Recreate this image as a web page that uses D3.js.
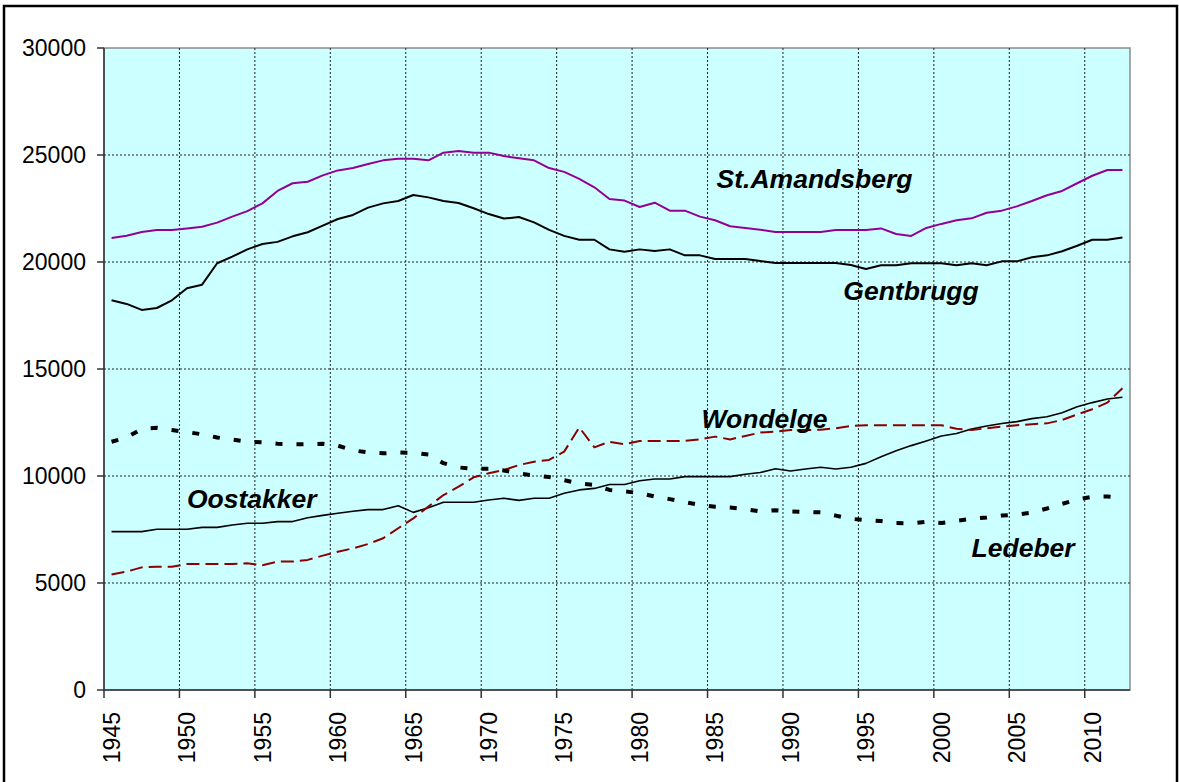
<!DOCTYPE html>
<html>
<head>
<meta charset="utf-8">
<script src="https://cdn.jsdelivr.net/npm/d3@7"></script>
<style>
  body { margin: 0; background: #fff; }
  svg { display: block; font-family: "Liberation Sans", Arial, sans-serif; }
</style>
</head>
<body>
<svg id="chart" width="1179" height="782"></svg>
<script>
// population of the Ghent districts, 1945 - 2012

const years = [
  1945, 1946, 1947, 1948, 1949, 1950, 1951, 1952, 1953, 1954,
  1955, 1956, 1957, 1958, 1959, 1960, 1961, 1962, 1963, 1964,
  1965, 1966, 1967, 1968, 1969, 1970, 1971, 1972, 1973, 1974,
  1975, 1976, 1977, 1978, 1979, 1980, 1981, 1982, 1983, 1984,
  1985, 1986, 1987, 1988, 1989, 1990, 1991, 1992, 1993, 1994,
  1995, 1996, 1997, 1998, 1999, 2000, 2001, 2002, 2003, 2004,
  2005, 2006, 2007, 2008, 2009, 2010, 2011, 2012
]

const stAmandsberg = [
  21120, 21230, 21400, 21490, 21490, 21570, 21650, 21840, 22120, 22380,
  22740, 23320, 23680, 23750, 24050, 24280, 24390, 24580, 24750, 24830,
  24830, 24750, 25110, 25190, 25110, 25110, 24950, 24850, 24750, 24390,
  24210, 23880, 23490, 22940, 22870, 22570, 22770, 22400, 22400, 22120,
  21950, 21670, 21590, 21510, 21400, 21400, 21400, 21400, 21490, 21490,
  21490, 21570, 21310, 21220, 21590, 21780, 21950, 22040, 22300, 22400,
  22600, 22850, 23120, 23320, 23680, 24030, 24300, 24300
]

const gentbrugg = [
  18210, 18040, 17760, 17850, 18210, 18770, 18940, 19940, 20250, 20590,
  20840, 20940, 21200, 21390, 21700, 22010, 22200, 22540, 22740, 22850,
  23130, 23020, 22850, 22760, 22510, 22240, 22030, 22100, 21850, 21500,
  21220, 21040, 21040, 20590, 20480, 20590, 20510, 20590, 20310, 20310,
  20140, 20140, 20140, 20050, 19950, 19950, 19950, 19950, 19950, 19860,
  19670, 19850, 19850, 19940, 19940, 19940, 19850, 19940, 19850, 20030,
  20030, 20220, 20310, 20500, 20760, 21040, 21040, 21140
]

const oostakker = [
  7400, 7400, 7400, 7510, 7510, 7510, 7600, 7600, 7710, 7790,
  7790, 7870, 7870, 8050, 8160, 8260, 8350, 8430, 8430, 8610,
  8300, 8520, 8770, 8770, 8770, 8880, 8960, 8860, 8960, 8960,
  9190, 9350, 9420, 9600, 9600, 9780, 9860, 9860, 9970, 9970,
  9970, 9970, 10080, 10160, 10340, 10230, 10330, 10410, 10330, 10410,
  10590, 10900, 11180, 11420, 11640, 11870, 11990, 12200, 12340, 12450,
  12540, 12680, 12770, 12960, 13240, 13430, 13600, 13680
]

const wondelge = [
  5400, 5530, 5730, 5760, 5760, 5890, 5890, 5890, 5890, 5920,
  5830, 6000, 6000, 6080, 6280, 6460, 6620, 6820, 7090, 7560,
  8020, 8570, 9110, 9500, 9940, 10130, 10280, 10510, 10670, 10750,
  11140, 12270, 11340, 11600, 11480, 11640, 11640, 11640, 11640, 11710,
  11840, 11710, 11870, 12030, 12070, 12150, 12150, 12160, 12230, 12340,
  12370, 12370, 12370, 12370, 12370, 12370, 12210, 12150, 12230, 12310,
  12370, 12420, 12460, 12620, 12880, 13120, 13430, 14100
]

const ledeber = [
  11600, 11800, 12200, 12250, 12150, 12050, 11950, 11800, 11700, 11600,
  11580, 11510, 11480, 11480, 11510, 11420, 11200, 11100, 11060, 11100,
  11080, 11000, 10600, 10400, 10330, 10340, 10260, 10120, 10020, 9950,
  9800, 9650, 9580, 9350, 9280, 9200, 9040, 8920, 8780, 8650,
  8560, 8530, 8450, 8340, 8400, 8340, 8320, 8300, 8150, 8000,
  7940, 7900, 7800, 7780, 7860, 7800, 7900, 8000, 8060, 8150,
  8200, 8290, 8480, 8700, 8900, 9030, 9040, 8980
]

const yTicks = [0, 5000, 10000, 15000, 20000, 25000, 30000]
const xTickYears = [1945, 1950, 1955, 1960, 1965, 1970, 1975, 1980, 1985, 1990, 1995, 2000, 2005, 2010]

// series with their line styles
const series = [
  { name: 'St.Amandsberg', values: stAmandsberg, color: '#940094', width: 2, dash: null },
  { name: 'Gentbrugg', values: gentbrugg, color: '#000', width: 2, dash: null },
  { name: 'Oostakker', values: oostakker, color: '#000', width: 1.6, dash: null },
  { name: 'Wondelge', values: wondelge, color: '#8b0000', width: 2, dash: '13,6' },
  { name: 'Ledeber', values: ledeber, color: '#000', width: 4, dash: '7,14' }
]

// label anchors (year, value) for the in-chart names
const labelNames = ['St.Amandsberg', 'Gentbrugg', 'Oostakker', 'Wondelge', 'Ledeber']
const labelYears = [1985.6, 1994.0, 1950.5, 1984.6, 2002.5]
const labelValues = [23450, 18230, 8500, 12240, 6210]

const svg = d3.select('#chart')
const margin = { left: 104, top: 48, right: 1130, bottom: 690 }

const x = d3.scaleBand()
  .domain(years)
  .range([margin.left, margin.right])
  .padding(0)
const xLin = d3.scaleLinear()
  .domain([years[0], years[years.length - 1] + 1])
  .range([margin.left, margin.right])
const y = d3.scaleLinear().domain([0, 30000]).range([margin.bottom, margin.top])

// outer frame
svg.append('rect')
  .attr('x', 4).attr('y', 6)
  .attr('width', 1173).attr('height', 800)
  .attr('fill', '#fff')
  .attr('stroke', '#000')
  .attr('stroke-width', 2.5)

// plot area
svg.append('rect')
  .attr('x', margin.left).attr('y', margin.top)
  .attr('width', margin.right - margin.left)
  .attr('height', margin.bottom - margin.top)
  .attr('fill', '#ccffff')
  .attr('stroke', '#8c8c8c')
  .attr('stroke-width', 1.5)

// gridlines
svg.append('g')
  .selectAll('line')
  .data(yTicks.filter(d => d > 0 && d < 30000))
  .enter()
  .append('line')
  .attr('x1', margin.left).attr('x2', margin.right)
  .attr('y1', d => y(d)).attr('y2', d => y(d))
  .attr('stroke', '#222')
  .attr('stroke-width', 1)
  .attr('stroke-dasharray', '2,2')

svg.append('g')
  .selectAll('line')
  .data(xTickYears.filter(d => d > 1945))
  .enter()
  .append('line')
  .attr('x1', d => x(d)).attr('x2', d => x(d))
  .attr('y1', margin.top).attr('y2', margin.bottom)
  .attr('stroke', '#222')
  .attr('stroke-width', 1)
  .attr('stroke-dasharray', '2,2')

// y axis
const yAxis = svg.append('g')
yAxis.append('line')
  .attr('x1', margin.left).attr('x2', margin.left)
  .attr('y1', margin.top).attr('y2', margin.bottom)
  .attr('stroke', '#333').attr('stroke-width', 1.5)
yAxis.selectAll('.tick')
  .data(yTicks)
  .enter()
  .append('line')
  .attr('x1', 97).attr('x2', margin.left)
  .attr('y1', d => y(d)).attr('y2', d => y(d))
  .attr('stroke', '#333').attr('stroke-width', 1.5)
yAxis.selectAll('text')
  .data(yTicks)
  .enter()
  .append('text')
  .attr('x', 86)
  .attr('y', d => y(d))
  .attr('dy', '0.36em')
  .attr('text-anchor', 'end')
  .style('font-size', '23px')
  .text(d => d)

// x axis
const xAxis = svg.append('g')
xAxis.append('line')
  .attr('x1', margin.left).attr('x2', margin.right)
  .attr('y1', margin.bottom).attr('y2', margin.bottom)
  .attr('stroke', '#333').attr('stroke-width', 1.5)
xAxis.selectAll('.tick')
  .data(xTickYears)
  .enter()
  .append('line')
  .attr('x1', d => x(d)).attr('x2', d => x(d))
  .attr('y1', margin.bottom).attr('y2', margin.bottom + 8)
  .attr('stroke', '#333').attr('stroke-width', 1.5)
xAxis.selectAll('text')
  .data(xTickYears)
  .enter()
  .append('text')
  .attr('transform', d => `translate(${x(d) + x.bandwidth() / 2},712) rotate(-90)`)
  .attr('dy', '0.36em')
  .attr('text-anchor', 'end')
  .style('font-size', '23px')
  .text(d => d)

// lines
const line = d3.line()
  .x((d, i) => x(years[i]) + x.bandwidth() / 2)
  .y(d => y(d))

svg.append('g')
  .selectAll('path')
  .data(series)
  .enter()
  .append('path')
  .attr('d', d => line(d.values))
  .attr('fill', 'none')
  .attr('stroke', d => d.color)
  .attr('stroke-width', d => d.width)
  .attr('stroke-dasharray', d => d.dash)
  .attr('stroke-linejoin', 'round')

// series names inside the chart
svg.append('g')
  .selectAll('text')
  .data(labelNames)
  .enter()
  .append('text')
  .attr('x', (d, i) => xLin(labelYears[i]))
  .attr('y', (d, i) => y(labelValues[i]))
  .style('font-size', '26.5px')
  .style('font-weight', 'bold')
  .style('font-style', 'italic')
  .text(d => d)
</script>
</body>
</html>
